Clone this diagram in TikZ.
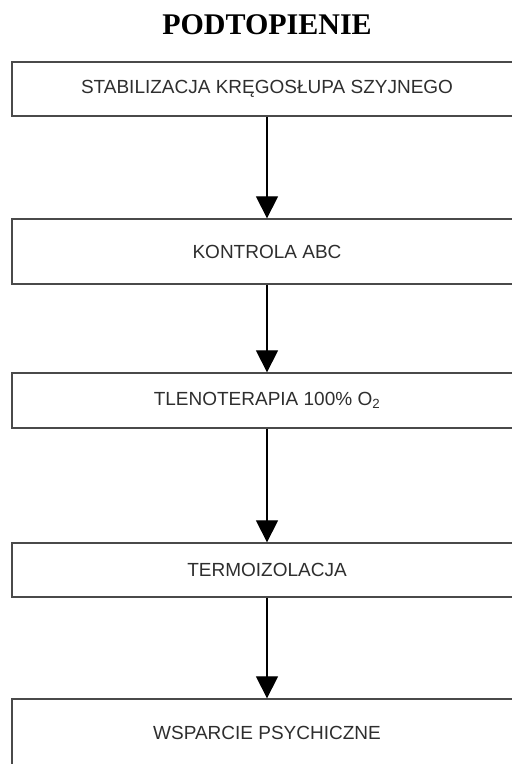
\documentclass[tikz,border=0pt]{standalone}
\usepackage{fontspec}
\setmainfont{Liberation Serif}
\setsansfont{Liberation Sans}
\usepackage{tikz}
\usetikzlibrary{positioning,arrows.meta,calc}
\definecolor{mFrame}{HTML}{4A4A4A}
\definecolor{mText}{HTML}{2E2E2E}

\begin{document}
\begin{tikzpicture}[x=1pt,y=-1pt,
  box/.style={draw=mFrame,line width=1.3pt,minimum width=510pt,inner sep=0pt,
    font=\sffamily\fontsize{19}{22}\selectfont,text=mText},
  flow/.style={-{Triangle[width=22pt,length=22pt]},line width=1.2pt}]
\useasboundingbox (0,0) rectangle (512,764);

\node[font=\bfseries\fontsize{30}{33}\selectfont] (title) at (267,25) {PODTOPIENIE};

\node[box,minimum height=54pt] (stab) at (267,89) {STABILIZACJA KRĘGOSŁUPA SZYJNEGO};
\node[box,minimum height=65pt] (abc) at (267,251.5) {KONTROLA ABC};
\node[box,minimum height=55pt] (tlen) at (267,400.5) {TLENOTERAPIA 100\% O\textsubscript{2}};
\node[box,minimum height=54pt] (termo) at (267,570) {TERMOIZOLACJA};
\node[box,minimum height=68pt] (psych) at (267,733) {WSPARCIE PSYCHICZNE};

\draw[flow] (stab) -- (abc);
\draw[flow] (abc) -- (tlen);
\draw[flow] (tlen) -- (termo);
\draw[flow] (termo) -- (psych);
\end{tikzpicture}
\end{document}
